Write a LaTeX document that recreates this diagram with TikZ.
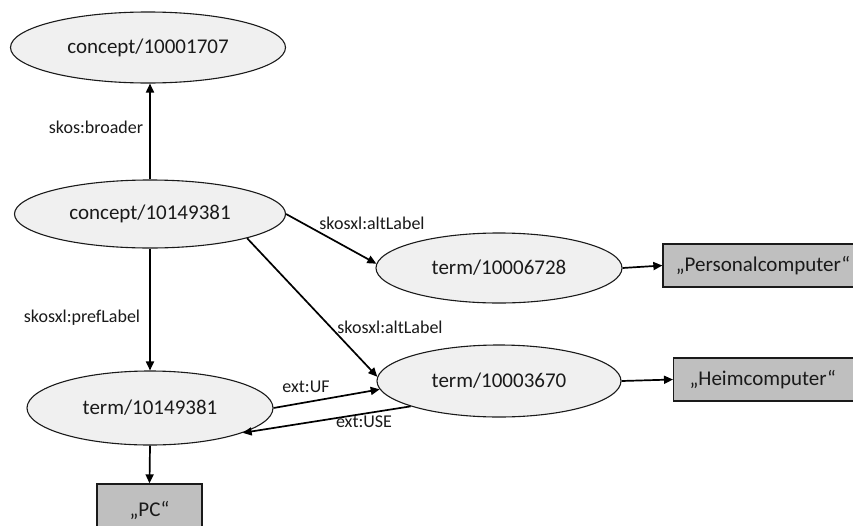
\documentclass[tikz,border=0pt]{standalone}
\usepackage{fontspec}
\setmainfont{Carlito}
\usetikzlibrary{shapes.geometric,arrows.meta}
\definecolor{ellfill}{HTML}{F0F0F0}
\definecolor{boxfill}{HTML}{BFBFBF}
\definecolor{ink}{HTML}{1A1A1A}
\tikzset{
  ell/.style={ellipse, draw=ink, line width=1.1pt, fill=ellfill, inner sep=0pt,
              text=ink, font=\fontsize{21}{25}\selectfont},
  lit/.style={rectangle, draw=ink, line width=1.3pt, fill=boxfill, inner sep=0pt,
              text=ink, font=\fontsize{21}{25}\selectfont},
  rel/.style={text=ink, font=\fontsize{18}{22}\selectfont, inner sep=0pt},
  conn/.style={draw=black, line width=1.7pt, -{Triangle[length=9pt,width=8pt]}}
}
\begin{document}
\begin{tikzpicture}[x=1pt,y=-1pt]
\useasboundingbox[fill=white] (0,0) rectangle (853,525);
% nodes
\node[ell, minimum width=275pt, minimum height=71pt] (c1) at (148,47.5) {concept/10001707};
\node[ell, minimum width=271pt, minimum height=68pt] (c2) at (150,214) {concept/10149381};
\node[ell, minimum width=246pt, minimum height=70pt] (t1) at (499,268) {term/10006728};
\node[ell, minimum width=244pt, minimum height=72pt] (t2) at (499,381) {term/10003670};
\node[ell, minimum width=246pt, minimum height=74pt] (t3) at (150,408) {term/10149381};
\node[lit, minimum width=200pt, minimum height=43pt] (b1) at (763,265.5) {„Personalcomputer“};
\node[lit, minimum height=43pt, anchor=west, inner xsep=16pt, text width=184pt, align=left] (b2) at (673,379.5) {„Heimcomputer“};
\node[lit, minimum width=105pt, minimum height=52pt] (b3) at (149.5,510) {„PC“};
% connectors
\draw[conn] (c2.north) -- (c2.north |- c1.south);
\draw[conn] (c2.east) -- (t1.178);
\draw[conn] (c2.-14) -- (t2.178);
\draw[conn] (c2.south) -- (t3.north);
\draw[conn] (t3.east) -- (t2.184);
\draw[conn] (t2.196) -- (t3.-15);
\draw[conn] (t1.east) -- (b1.west);
\draw[conn] (t2.east) -- (b2.west);
\draw[conn] (t3.south) -- (b3.north);
% labels
\node[rel] (lbroader) at (96,127) {skos:broader};
\node[rel] (lalt1) at (372,223) {skosxl:altLabel};
\node[rel] (lalt2) at (390,327) {skosxl:altLabel};
\node[rel] (lpref) at (82,318) {skosxl:prefLabel};
\node[rel] (luf) at (306,387) {ext:UF};
\node[rel] (luse) at (364,422) {ext:USE};
\end{tikzpicture}
\end{document}
